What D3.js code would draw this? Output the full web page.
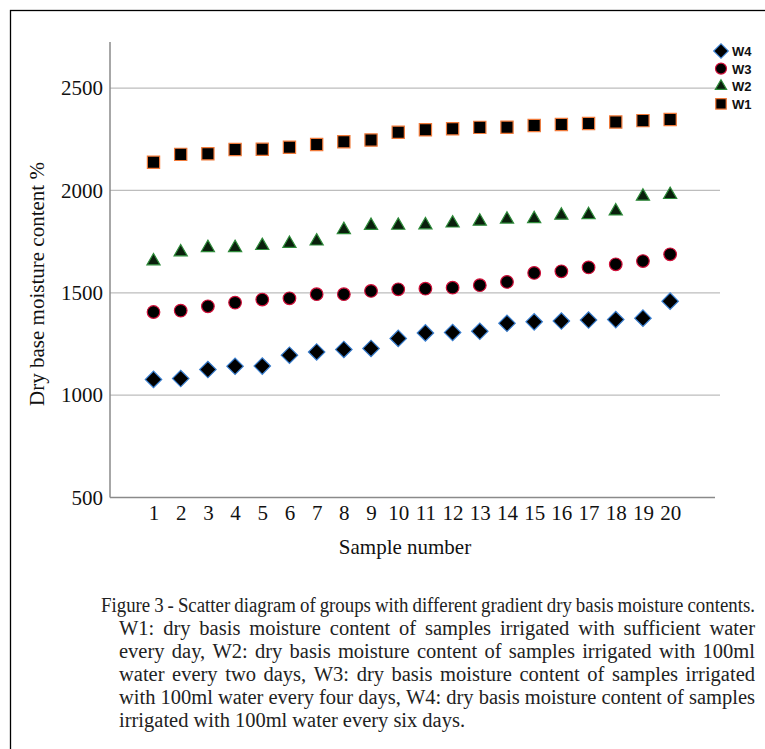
<!DOCTYPE html>
<html><head><meta charset="utf-8">
<script src="https://cdn.jsdelivr.net/npm/d3@7"></script>
<style>html,body{margin:0;padding:0;background:#fff;}svg{display:block;}</style>
</head><body>
<svg id="c" width="765" height="749"></svg>
<script>
const samples = [1,2,3,4,5,6,7,8,9,10,11,12,13,14,15,16,17,18,19,20];
const W1 = [2138,2176,2179,2200,2201,2211,2224,2238,2246,2284,2296,2301,2308,2309,2317,2322,2327,2334,2341,2346];
const W2 = [1655,1699,1720,1720,1730,1740,1752,1808,1828,1829,1831,1840,1849,1859,1861,1878,1881,1899,1971,1979];
const W3 = [1406,1413,1434,1452,1467,1473,1493,1493,1509,1517,1520,1525,1537,1553,1597,1605,1624,1639,1655,1688];
const W4 = [1077,1081,1125,1141,1142,1195,1211,1223,1228,1277,1304,1306,1312,1351,1358,1362,1367,1369,1376,1459];
const yTicks = [500,1000,1500,2000,2500];
const seriesNames = ["W4","W3","W2","W1"];
const captionLines = [
 "Figure 3 - Scatter diagram of groups with different gradient dry basis moisture contents.",
 "W1: dry basis moisture content of samples irrigated with sufficient water",
 "every day, W2: dry basis moisture content of samples irrigated with 100ml",
 "water every two days, W3: dry basis moisture content of samples irrigated",
 "with 100ml water every four days, W4: dry basis moisture content of samples",
 "irrigated with 100ml water every six days."
];

const svg = d3.select("#c");
const serif = "'Liberation Serif','Times New Roman',serif";

// frame
svg.append("rect").attr("x",10.5).attr("y",10.5).attr("width",800).attr("height",800)
  .attr("fill","none").attr("stroke","#000").attr("stroke-width",1.3);

const x = d3.scaleLinear().domain([-0.6, 21.65]).range([110, 715]);
const y = d3.scaleLinear().domain([500, 2725]).range([497.5, 42]);

// gridlines
svg.append("g").selectAll("line").data(yTicks.filter(d=>d>500)).join("line")
  .attr("x1",110).attr("x2",720).attr("y1",d=>y(d)).attr("y2",d=>y(d))
  .attr("stroke","#bdbdbd").attr("stroke-width",1.3);

// y axis
const yAxis = svg.append("g").attr("transform","translate(110,0)")
  .call(d3.axisLeft(y).tickValues(yTicks).tickSize(0).tickPadding(7).tickFormat(d3.format("d")));
yAxis.select(".domain").remove();
yAxis.selectAll("text").attr("font-family",serif).attr("font-size",21).attr("fill","#111");
svg.append("line").attr("x1",110).attr("x2",110).attr("y1",y(2725)).attr("y2",y(500))
  .attr("stroke","#8a8a8a").attr("stroke-width",1.5);
// x axis
const xAxis = svg.append("g").attr("transform","translate(0,497.5)")
  .call(d3.axisBottom(x).tickValues(samples).tickSize(0).tickPadding(6).tickFormat(d3.format("d")));
xAxis.select(".domain").remove();
xAxis.selectAll("text").attr("font-family",serif).attr("font-size",21).attr("fill","#111")
  .attr("dy",null).attr("y",22);
svg.append("line").attr("x1",110).attr("x2",715).attr("y1",497.5).attr("y2",497.5)
  .attr("stroke","#8a8a8a").attr("stroke-width",1.5);

// axis titles
svg.append("text").attr("x",405).attr("y",554).attr("text-anchor","middle")
  .attr("font-family",serif).attr("font-size",21).attr("fill","#111").text("Sample number");
svg.append("text").attr("transform","translate(44,284) rotate(-90)").attr("text-anchor","middle")
  .attr("font-family",serif).attr("font-size",21).attr("fill","#111").text("Dry base moisture content %");

// symbols
const styles = {
  W1:{sym:d3.symbolSquare, size:150, stroke:"#f07a3a", legSize:110, rot:0},
  W2:{sym:d3.symbolTriangle, size:75, stroke:"#2e8b3a", legSize:55, rot:0},
  W3:{sym:d3.symbolCircle, size:125, stroke:"#d0103a", legSize:95, rot:0},
  W4:{sym:d3.symbolSquare, size:135, stroke:"#3a7fd0", legSize:105, rot:45}
};
const data = {W1, W2, W3, W4};
["W1","W2","W3","W4"].forEach(k=>{
  const st = styles[k];
  svg.append("g").selectAll("path").data(data[k]).join("path")
    .attr("transform",(d,i)=>`translate(${x(samples[i])},${y(d)}) rotate(${st.rot})`)
    .attr("d", d3.symbol().type(st.sym).size(st.size))
    .attr("fill", k==="W2" ? "#0a1f0c" : "#000")
    .attr("stroke", st.stroke).attr("stroke-width",1.2);
});

// legend
const leg = svg.append("g");
seriesNames.forEach((k,i)=>{
  const st = styles[k];
  const cy = 51 + i*17.6;
  leg.append("path").attr("transform",`translate(721,${cy}) rotate(${st.rot})`)
    .attr("d", d3.symbol().type(st.sym).size(st.legSize))
    .attr("fill", k==="W2" ? "#0a1f0c" : "#000")
    .attr("stroke", st.stroke).attr("stroke-width",1.2);
  leg.append("text").attr("x",732).attr("y",cy+5).attr("font-family","'Liberation Sans',Arial,sans-serif")
    .attr("font-weight","bold").attr("font-size",13).attr("fill","#111").text(k);
});

// caption, justified
const right = 755;
captionLines.forEach((line,i)=>{
  const left = i===0 ? 101 : 119;
  const by = 612 + i*23;
  const words = line.split(" ");
  const g = svg.append("g");
  const nodes = words.map(w => g.append("text").attr("y",by).attr("font-family",serif)
      .attr("font-size",20.5).attr("fill","#222").text(w));
  const widths = nodes.map(n => n.node().getComputedTextLength());
  const total = d3.sum(widths);
  const avail = right - left;
  const minGap = 4;
  let s = Math.min(1, (avail - (words.length-1)*minGap)/total);
  if (i === captionLines.length-1) s = Math.min(1, s);
  const w2 = widths.map(w=>w*s);
  let gap = minGap;
  if (i < captionLines.length-1) gap = (avail - d3.sum(w2))/(words.length-1);
  else gap = 5*s;
  let cx = left;
  nodes.forEach((n,j)=>{
    n.attr("x",cx);
    if (s < 1) n.attr("textLength", w2[j]).attr("lengthAdjust","spacingAndGlyphs");
    cx += w2[j] + gap;
  });
});
</script>
</body></html>
